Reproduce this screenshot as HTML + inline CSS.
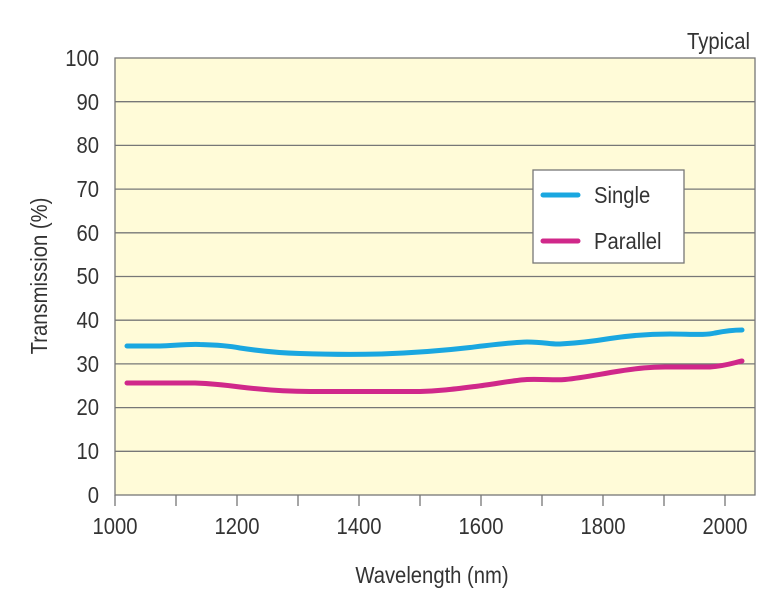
<!DOCTYPE html>
<html><head><style>body{margin:0;background:#fff}svg{display:block}text{font-family:"Liberation Sans",sans-serif;fill:#333;font-size:23px}</style></head>
<body>
<svg width="783" height="600" xmlns="http://www.w3.org/2000/svg">
<rect x="115" y="58" width="640" height="437" fill="#fffbd8" stroke="#777" stroke-width="1.3"/>
<g stroke="#777" stroke-width="1.3">
<line x1="115" y1="101.7" x2="755" y2="101.7"/><line x1="115" y1="145.4" x2="755" y2="145.4"/><line x1="115" y1="189.1" x2="755" y2="189.1"/><line x1="115" y1="232.8" x2="755" y2="232.8"/><line x1="115" y1="276.5" x2="755" y2="276.5"/><line x1="115" y1="320.2" x2="755" y2="320.2"/><line x1="115" y1="363.9" x2="755" y2="363.9"/><line x1="115" y1="407.6" x2="755" y2="407.6"/><line x1="115" y1="451.3" x2="755" y2="451.3"/>
<line x1="115" y1="495" x2="115" y2="506"/><line x1="176" y1="495" x2="176" y2="506"/><line x1="237" y1="495" x2="237" y2="506"/><line x1="298" y1="495" x2="298" y2="506"/><line x1="359" y1="495" x2="359" y2="506"/><line x1="420" y1="495" x2="420" y2="506"/><line x1="481" y1="495" x2="481" y2="506"/><line x1="542" y1="495" x2="542" y2="506"/><line x1="603" y1="495" x2="603" y2="506"/><line x1="664" y1="495" x2="664" y2="506"/><line x1="725" y1="495" x2="725" y2="506"/>
</g>
<g text-anchor="end">
<text transform="translate(99,66) scale(0.88,1)">100</text><text transform="translate(99,110) scale(0.88,1)">90</text><text transform="translate(99,153) scale(0.88,1)">80</text><text transform="translate(99,197) scale(0.88,1)">70</text><text transform="translate(99,241) scale(0.88,1)">60</text><text transform="translate(99,284) scale(0.88,1)">50</text><text transform="translate(99,328) scale(0.88,1)">40</text><text transform="translate(99,372) scale(0.88,1)">30</text><text transform="translate(99,415) scale(0.88,1)">20</text><text transform="translate(99,459) scale(0.88,1)">10</text><text transform="translate(99,503) scale(0.88,1)">0</text>
<text transform="translate(750,49) scale(0.88,1)">Typical</text>
</g>
<g text-anchor="middle">
<text transform="translate(115,534) scale(0.88,1)">1000</text><text transform="translate(237,534) scale(0.88,1)">1200</text><text transform="translate(359,534) scale(0.88,1)">1400</text><text transform="translate(481,534) scale(0.88,1)">1600</text><text transform="translate(603,534) scale(0.88,1)">1800</text><text transform="translate(725,534) scale(0.88,1)">2000</text>
<text transform="translate(432,583) scale(0.88,1)">Wavelength (nm)</text>
<text transform="translate(47,276) rotate(-90) scale(0.88,1)">Transmission (%)</text>
</g>
<path d="M127,346 L160,346 C180,345 190,344 200,344.5 C220,345 230,346 240,348 C260,351 280,353 300,353.5 C330,354.5 360,354.5 380,354 C410,353 440,351 470,347.5 C495,344.5 515,342 527,342 C545,342 550,344.5 560,344 C580,343 595,341 610,338.5 C630,335.5 650,334 670,334 C690,334 705,335.5 715,333 C725,331 735,330 742,330" fill="none" stroke="#1aa7e0" stroke-width="5" stroke-linecap="round"/>
<path d="M127,383 L195,383 C210,383.5 225,385 240,387 C265,390 285,391.5 310,391.5 L420,391.5 C440,391 455,389 475,386.5 C495,384 515,380 527,379.5 C545,379 555,380.5 565,379.5 C585,377.5 600,374 620,371 C640,368 650,367 665,367 L710,367 C725,366 733,363 742,361" fill="none" stroke="#d0288a" stroke-width="5" stroke-linecap="round"/>
<rect x="533" y="170" width="151" height="93" fill="#fff" stroke="#777" stroke-width="1.3"/>
<line x1="543" y1="195" x2="578" y2="195" stroke="#1aa7e0" stroke-width="5" stroke-linecap="round"/>
<line x1="543" y1="241" x2="578" y2="241" stroke="#d0288a" stroke-width="5" stroke-linecap="round"/>
<text transform="translate(594,203) scale(0.88,1)">Single</text>
<text transform="translate(594,249) scale(0.88,1)">Parallel</text>
</svg>
</body></html>
